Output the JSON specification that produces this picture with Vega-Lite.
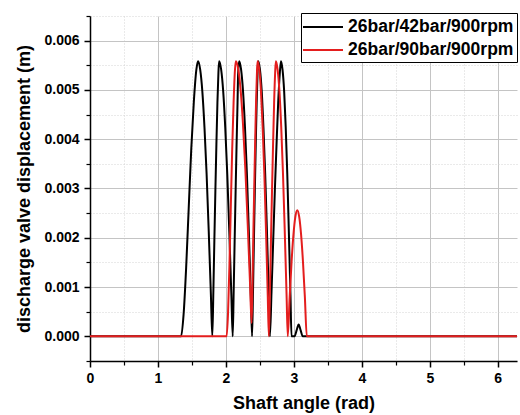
{
  "$schema": "https://vega.github.io/schema/vega-lite/v6.json",
  "width": 427,
  "height": 345,
  "autosize": {"type": "none"},
  "padding": {"left": 90, "top": 16, "right": 3, "bottom": 54},
  "background": "white",
  "config": {
    "view": {"stroke": null},
    "font": "Liberation Sans",
    "axis": {"labelFont": "Liberation Sans", "titleFont": "Liberation Sans"}
  },
  "data": {
    "values": [
      {"series": "26bar/42bar/900rpm", "angle": 0, "disp": 0},
      {"series": "26bar/42bar/900rpm", "angle": 1.34, "disp": 0},
      {"series": "26bar/42bar/900rpm", "angle": 1.3775, "disp": 0.00045},
      {"series": "26bar/42bar/900rpm", "angle": 1.415, "disp": 0.0014},
      {"series": "26bar/42bar/900rpm", "angle": 1.4525, "disp": 0.0026},
      {"series": "26bar/42bar/900rpm", "angle": 1.49, "disp": 0.0038},
      {"series": "26bar/42bar/900rpm", "angle": 1.5275, "disp": 0.00475},
      {"series": "26bar/42bar/900rpm", "angle": 1.565, "disp": 0.00541},
      {"series": "26bar/42bar/900rpm", "angle": 1.59, "disp": 0.00558},
      {"series": "26bar/42bar/900rpm", "angle": 1.6215, "disp": 0.00541},
      {"series": "26bar/42bar/900rpm", "angle": 1.653, "disp": 0.00497},
      {"series": "26bar/42bar/900rpm", "angle": 1.6845, "disp": 0.00424},
      {"series": "26bar/42bar/900rpm", "angle": 1.716, "disp": 0.00329},
      {"series": "26bar/42bar/900rpm", "angle": 1.7475, "disp": 0.00212},
      {"series": "26bar/42bar/900rpm", "angle": 1.779, "disp": 0.00084},
      {"series": "26bar/42bar/900rpm", "angle": 1.80, "disp": 0},
      {"series": "26bar/42bar/900rpm", "angle": 1.815, "disp": 0.0009},
      {"series": "26bar/42bar/900rpm", "angle": 1.83, "disp": 0.00195},
      {"series": "26bar/42bar/900rpm", "angle": 1.845, "disp": 0.00296},
      {"series": "26bar/42bar/900rpm", "angle": 1.86, "disp": 0.0039},
      {"series": "26bar/42bar/900rpm", "angle": 1.875, "disp": 0.00474},
      {"series": "26bar/42bar/900rpm", "angle": 1.89, "disp": 0.00536},
      {"series": "26bar/42bar/900rpm", "angle": 1.90, "disp": 0.00558},
      {"series": "26bar/42bar/900rpm", "angle": 1.93, "disp": 0.00541},
      {"series": "26bar/42bar/900rpm", "angle": 1.96, "disp": 0.00497},
      {"series": "26bar/42bar/900rpm", "angle": 1.99, "disp": 0.00424},
      {"series": "26bar/42bar/900rpm", "angle": 2.02, "disp": 0.00329},
      {"series": "26bar/42bar/900rpm", "angle": 2.05, "disp": 0.00212},
      {"series": "26bar/42bar/900rpm", "angle": 2.08, "disp": 0.00084},
      {"series": "26bar/42bar/900rpm", "angle": 2.10, "disp": 0},
      {"series": "26bar/42bar/900rpm", "angle": 2.114, "disp": 0.0009},
      {"series": "26bar/42bar/900rpm", "angle": 2.1285, "disp": 0.00195},
      {"series": "26bar/42bar/900rpm", "angle": 2.143, "disp": 0.00296},
      {"series": "26bar/42bar/900rpm", "angle": 2.157, "disp": 0.0039},
      {"series": "26bar/42bar/900rpm", "angle": 2.171, "disp": 0.00474},
      {"series": "26bar/42bar/900rpm", "angle": 2.1805, "disp": 0.00536},
      {"series": "26bar/42bar/900rpm", "angle": 2.195, "disp": 0.00558},
      {"series": "26bar/42bar/900rpm", "angle": 2.2235, "disp": 0.00541},
      {"series": "26bar/42bar/900rpm", "angle": 2.252, "disp": 0.00497},
      {"series": "26bar/42bar/900rpm", "angle": 2.2805, "disp": 0.00424},
      {"series": "26bar/42bar/900rpm", "angle": 2.309, "disp": 0.00329},
      {"series": "26bar/42bar/900rpm", "angle": 2.3375, "disp": 0.00212},
      {"series": "26bar/42bar/900rpm", "angle": 2.366, "disp": 0.00084},
      {"series": "26bar/42bar/900rpm", "angle": 2.385, "disp": 0},
      {"series": "26bar/42bar/900rpm", "angle": 2.3985, "disp": 0.0009},
      {"series": "26bar/42bar/900rpm", "angle": 2.412, "disp": 0.00195},
      {"series": "26bar/42bar/900rpm", "angle": 2.4255, "disp": 0.00296},
      {"series": "26bar/42bar/900rpm", "angle": 2.439, "disp": 0.0039},
      {"series": "26bar/42bar/900rpm", "angle": 2.4525, "disp": 0.00474},
      {"series": "26bar/42bar/900rpm", "angle": 2.466, "disp": 0.00536},
      {"series": "26bar/42bar/900rpm", "angle": 2.475, "disp": 0.00558},
      {"series": "26bar/42bar/900rpm", "angle": 2.501, "disp": 0.00541},
      {"series": "26bar/42bar/900rpm", "angle": 2.527, "disp": 0.00497},
      {"series": "26bar/42bar/900rpm", "angle": 2.552, "disp": 0.00424},
      {"series": "26bar/42bar/900rpm", "angle": 2.578, "disp": 0.00329},
      {"series": "26bar/42bar/900rpm", "angle": 2.604, "disp": 0.00212},
      {"series": "26bar/42bar/900rpm", "angle": 2.63, "disp": 0.00084},
      {"series": "26bar/42bar/900rpm", "angle": 2.647, "disp": 0},
      {"series": "26bar/42bar/900rpm", "angle": 2.671, "disp": 0.0009},
      {"series": "26bar/42bar/900rpm", "angle": 2.696, "disp": 0.00195},
      {"series": "26bar/42bar/900rpm", "angle": 2.72, "disp": 0.00296},
      {"series": "26bar/42bar/900rpm", "angle": 2.745, "disp": 0.0039},
      {"series": "26bar/42bar/900rpm", "angle": 2.769, "disp": 0.00474},
      {"series": "26bar/42bar/900rpm", "angle": 2.794, "disp": 0.00536},
      {"series": "26bar/42bar/900rpm", "angle": 2.81, "disp": 0.00558},
      {"series": "26bar/42bar/900rpm", "angle": 2.833, "disp": 0.00541},
      {"series": "26bar/42bar/900rpm", "angle": 2.857, "disp": 0.00497},
      {"series": "26bar/42bar/900rpm", "angle": 2.88, "disp": 0.00424},
      {"series": "26bar/42bar/900rpm", "angle": 2.903, "disp": 0.00329},
      {"series": "26bar/42bar/900rpm", "angle": 2.926, "disp": 0.00212},
      {"series": "26bar/42bar/900rpm", "angle": 2.95, "disp": 0.00084},
      {"series": "26bar/42bar/900rpm", "angle": 2.965, "disp": 0},
      {"series": "26bar/42bar/900rpm", "angle": 3.01, "disp": 0},
      {"series": "26bar/42bar/900rpm", "angle": 3.04, "disp": 0.00012},
      {"series": "26bar/42bar/900rpm", "angle": 3.07, "disp": 0.00024},
      {"series": "26bar/42bar/900rpm", "angle": 3.10, "disp": 0.00012},
      {"series": "26bar/42bar/900rpm", "angle": 3.13, "disp": 0},
      {"series": "26bar/42bar/900rpm", "angle": 6.2832, "disp": 0},

      {"series": "26bar/90bar/900rpm", "angle": 0, "disp": 0},
      {"series": "26bar/90bar/900rpm", "angle": 2.01, "disp": 0},
      {"series": "26bar/90bar/900rpm", "angle": 2.0306, "disp": 0.00045},
      {"series": "26bar/90bar/900rpm", "angle": 2.0511, "disp": 0.0014},
      {"series": "26bar/90bar/900rpm", "angle": 2.0717, "disp": 0.00262},
      {"series": "26bar/90bar/900rpm", "angle": 2.0922, "disp": 0.00379},
      {"series": "26bar/90bar/900rpm", "angle": 2.1128, "disp": 0.00474},
      {"series": "26bar/90bar/900rpm", "angle": 2.1333, "disp": 0.00541},
      {"series": "26bar/90bar/900rpm", "angle": 2.147, "disp": 0.00558},
      {"series": "26bar/90bar/900rpm", "angle": 2.1817, "disp": 0.00542},
      {"series": "26bar/90bar/900rpm", "angle": 2.2163, "disp": 0.005},
      {"series": "26bar/90bar/900rpm", "angle": 2.251, "disp": 0.00431},
      {"series": "26bar/90bar/900rpm", "angle": 2.2856, "disp": 0.0034},
      {"series": "26bar/90bar/900rpm", "angle": 2.3203, "disp": 0.00229},
      {"series": "26bar/90bar/900rpm", "angle": 2.3549, "disp": 0.00107},
      {"series": "26bar/90bar/900rpm", "angle": 2.378, "disp": 0.00027},
      {"series": "26bar/90bar/900rpm", "angle": 2.3912, "disp": 0.00112},
      {"series": "26bar/90bar/900rpm", "angle": 2.4044, "disp": 0.00213},
      {"series": "26bar/90bar/900rpm", "angle": 2.4176, "disp": 0.00308},
      {"series": "26bar/90bar/900rpm", "angle": 2.4308, "disp": 0.00399},
      {"series": "26bar/90bar/900rpm", "angle": 2.444, "disp": 0.00478},
      {"series": "26bar/90bar/900rpm", "angle": 2.4572, "disp": 0.00537},
      {"series": "26bar/90bar/900rpm", "angle": 2.466, "disp": 0.00558},
      {"series": "26bar/90bar/900rpm", "angle": 2.4909, "disp": 0.00541},
      {"series": "26bar/90bar/900rpm", "angle": 2.5158, "disp": 0.00497},
      {"series": "26bar/90bar/900rpm", "angle": 2.5407, "disp": 0.00424},
      {"series": "26bar/90bar/900rpm", "angle": 2.5656, "disp": 0.00329},
      {"series": "26bar/90bar/900rpm", "angle": 2.5905, "disp": 0.00212},
      {"series": "26bar/90bar/900rpm", "angle": 2.6154, "disp": 0.00084},
      {"series": "26bar/90bar/900rpm", "angle": 2.632, "disp": 0},
      {"series": "26bar/90bar/900rpm", "angle": 2.6475, "disp": 0.0009},
      {"series": "26bar/90bar/900rpm", "angle": 2.6629, "disp": 0.00195},
      {"series": "26bar/90bar/900rpm", "angle": 2.6784, "disp": 0.00296},
      {"series": "26bar/90bar/900rpm", "angle": 2.6938, "disp": 0.0039},
      {"series": "26bar/90bar/900rpm", "angle": 2.7093, "disp": 0.00474},
      {"series": "26bar/90bar/900rpm", "angle": 2.7247, "disp": 0.00536},
      {"series": "26bar/90bar/900rpm", "angle": 2.735, "disp": 0.00558},
      {"series": "26bar/90bar/900rpm", "angle": 2.761, "disp": 0.00541},
      {"series": "26bar/90bar/900rpm", "angle": 2.7875, "disp": 0.00497},
      {"series": "26bar/90bar/900rpm", "angle": 2.814, "disp": 0.00424},
      {"series": "26bar/90bar/900rpm", "angle": 2.84, "disp": 0.00329},
      {"series": "26bar/90bar/900rpm", "angle": 2.866, "disp": 0.00212},
      {"series": "26bar/90bar/900rpm", "angle": 2.8925, "disp": 0.00084},
      {"series": "26bar/90bar/900rpm", "angle": 2.91, "disp": 0},
      {"series": "26bar/90bar/900rpm", "angle": 2.938, "disp": 0.00079},
      {"series": "26bar/90bar/900rpm", "angle": 2.966, "disp": 0.00151},
      {"series": "26bar/90bar/900rpm", "angle": 2.994, "disp": 0.00207},
      {"series": "26bar/90bar/900rpm", "angle": 3.022, "disp": 0.00243},
      {"series": "26bar/90bar/900rpm", "angle": 3.05, "disp": 0.00256},
      {"series": "26bar/90bar/900rpm", "angle": 3.078, "disp": 0.00243},
      {"series": "26bar/90bar/900rpm", "angle": 3.106, "disp": 0.00207},
      {"series": "26bar/90bar/900rpm", "angle": 3.134, "disp": 0.00151},
      {"series": "26bar/90bar/900rpm", "angle": 3.162, "disp": 0.00079},
      {"series": "26bar/90bar/900rpm", "angle": 3.19, "disp": 0},
      {"series": "26bar/90bar/900rpm", "angle": 6.2832, "disp": 0}
    ]
  },
  "layer": [
    {
      "mark": {"type": "line", "opacity": 0, "clip": true},
      "encoding": {
        "x": {
          "field": "angle", "type": "quantitative",
          "scale": {"domain": [0, 6.2832], "nice": false, "zero": false},
          "axis": {
            "orient": "bottom", "values": [0.5, 1.5, 2.5, 3.5, 4.5, 5.5],
            "labels": false, "domain": false, "title": null,
            "ticks": true, "tickSize": 4, "tickColor": "#000000", "tickWidth": 1.2,
            "grid": true, "gridColor": "#d4d4d4", "gridDash": [1, 2], "gridWidth": 1
          }
        },
        "y": {
          "field": "disp", "type": "quantitative",
          "scale": {"domain": [-0.0005, 0.0065], "nice": false, "zero": false},
          "axis": {
            "orient": "left",
            "values": [-0.0005, 0.0005, 0.0015, 0.0025, 0.0035, 0.0045, 0.0055, 0.0065],
            "labels": false, "domain": false, "title": null,
            "ticks": true, "tickSize": 4, "tickColor": "#000000", "tickWidth": 1.2,
            "grid": true, "gridColor": "#d4d4d4", "gridDash": [1, 2], "gridWidth": 1
          }
        }
      }
    },
    {
      "mark": {"type": "line", "strokeWidth": 2, "interpolate": "monotone", "clip": true},
      "encoding": {
        "x": {
          "field": "angle", "type": "quantitative",
          "axis": {
            "orient": "bottom", "values": [0, 1, 2, 3, 4, 5, 6],
            "title": "Shaft angle (rad)", "titleFontSize": 18, "titleFontWeight": "bold",
            "titleColor": "#000000", "titlePadding": 9,
            "labelFontSize": 14, "labelFontWeight": "bold", "labelColor": "#000000",
            "labelPadding": 4, "labelFlush": false,
            "domain": true, "domainColor": "#000000", "domainWidth": 1.5,
            "ticks": true, "tickSize": 6, "tickColor": "#000000", "tickWidth": 1.5,
            "grid": true, "gridColor": "#c4c4c4", "gridWidth": 1
          }
        },
        "y": {
          "field": "disp", "type": "quantitative",
          "axis": {
            "orient": "left", "values": [0, 0.001, 0.002, 0.003, 0.004, 0.005, 0.006],
            "format": ".3f",
            "title": "discharge valve displacement (m)", "titleFontSize": 18, "titleFontWeight": "bold",
            "titleColor": "#000000", "titlePadding": 10,
            "labelFontSize": 14, "labelFontWeight": "bold", "labelColor": "#000000",
            "labelPadding": 5, "labelFlush": false,
            "domain": true, "domainColor": "#000000", "domainWidth": 1.5,
            "ticks": true, "tickSize": 6, "tickColor": "#000000", "tickWidth": 1.5,
            "grid": true, "gridColor": "#c4c4c4", "gridWidth": 1
          }
        },
        "color": {
          "field": "series", "type": "nominal",
          "scale": {"domain": ["26bar/42bar/900rpm", "26bar/90bar/900rpm"], "range": ["#000000", "#e41e1e"]},
          "legend": {
            "orient": "none", "legendX": 211, "legendY": -3,
            "title": null, "symbolType": "M-2,0H2", "symbolSize": 400, "symbolStrokeWidth": 2,
            "symbolOffset": 8,
            "labelFontSize": 17.5, "labelFontWeight": "bold", "labelColor": "#000000",
            "labelFont": "Liberation Sans", "labelOffset": 14, "labelLimit": 300,
            "rowPadding": 3, "padding": 3,
            "strokeColor": "#000000", "fillColor": "#ffffff"
          }
        }
      }
    }
  ],
  "resolve": {"axis": {"x": "independent", "y": "independent"}}
}
